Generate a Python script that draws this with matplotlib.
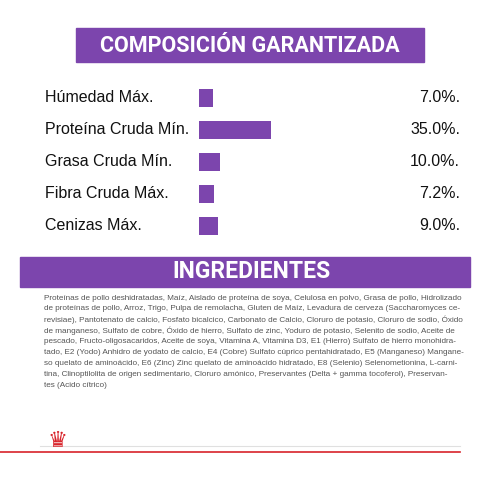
import matplotlib
matplotlib.use("Agg")
import matplotlib.pyplot as plt
from matplotlib.patches import Rectangle

categories = ["Húmedad Máx.", "Proteína Cruda Mín.", "Grasa Cruda Mín.", "Fibra Cruda Máx.", "Cenizas Máx."]
values = [7.0, 35.0, 10.0, 7.2, 9.0]
value_labels = ["7.0%.", "35.0%.", "10.0%.", "7.2%.", "9.0%."]
title1 = "COMPOSICIÓN GARANTIZADA"
title2 = "INGREDIENTES"
ingredients = [
"Proteínas de pollo deshidratadas, Maíz, Aislado de proteína de soya, Celulosa en polvo, Grasa de pollo, Hidrolizado",
"de proteínas de pollo, Arroz, Trigo, Pulpa de remolacha, Gluten de Maíz, Levadura de cerveza (Saccharomyces ce-",
"revisiae), Pantotenato de calcio, Fosfato bicalcico, Carbonato de Calcio, Cloruro de potasio, Cloruro de sodio, Óxido",
"de manganeso, Sulfato de cobre, Óxido de hierro, Sulfato de zinc, Yoduro de potasio, Selenito de sodio, Aceite de",
"pescado, Fructo-oligosacaridos, Aceite de soya, Vitamina A, Vitamina D3, E1 (Hierro) Sulfato de hierro monohidra-",
"tado, E2 (Yodo) Anhidro de yodato de calcio, E4 (Cobre) Sulfato cúprico pentahidratado, E5 (Manganeso) Mangane-",
"so quelato de aminoácido, E6 (Zinc) Zinc quelato de aminoácido hidratado, E8 (Selenio) Selenometionina, L-carni-",
"tina, Clinoptilolita de origen sedimentario, Cloruro amónico, Preservantes (Delta + gamma tocoferol), Preservan-",
"tes (Acido cítrico)",
]

purple = "#7c45ad"
W = H = 500
fig = plt.figure(figsize=(5, 5), dpi=100)
fig.patch.set_facecolor("white")

def fy(y):
    return 1 - y / H

# header bands
fig.patches.append(Rectangle((76/W, fy(62)), (424-76)/W, 34/H, transform=fig.transFigure, color=purple))
fig.text(250/W, fy(46), title1, ha="center", va="center", color="white", fontsize=15.5, fontweight="bold", family="Roboto")
fig.patches.append(Rectangle((20/W, fy(287)), (470-20)/W, 30/H, transform=fig.transFigure, color=purple))
fig.text(251/W, fy(272), title2, ha="center", va="center", color="white", fontsize=16.5, fontweight="bold", family="Roboto")

# bar axes
ax = fig.add_axes([199/W, fy(245), 100/W, (245-82)/H])
ypos = list(range(len(categories)))
ax.barh(ypos, values, height=0.55, color=purple)
ax.set_xlim(0, 100/2.06)
ax.set_ylim(len(categories)-0.5+0.1, -0.5)
ax.axis("off")
for i, (c, v) in enumerate(zip(categories, value_labels)):
    yc = ax.transData.transform((0, i))[1] / H
    fig.text(45/W, yc, c, ha="left", va="center", fontsize=11.5, family="Liberation Sans", color="#111111")
    fig.text(460/W, yc, v, ha="right", va="center", fontsize=11.5, family="Liberation Sans", color="#111111")

# ingredients
for k, line in enumerate(ingredients):
    fig.text(44/W, fy(298 + k*10.9), line, ha="left", va="center", fontsize=5.9, family="Liberation Sans", color="#555555")

# bottom decoration
fig.add_artist(plt.Line2D([0, 460/W], [fy(452), fy(452)], color="#d8232a", lw=1.2, transform=fig.transFigure))
fig.add_artist(plt.Line2D([40/W, 460/W], [fy(446), fy(446)], color="#e0e0e0", lw=0.8, transform=fig.transFigure))
fig.text(58/W, fy(441), "♛", ha="center", va="center", color="#d8232a", fontsize=16, family="DejaVu Sans")

fig.savefig("out.png", dpi=100)
